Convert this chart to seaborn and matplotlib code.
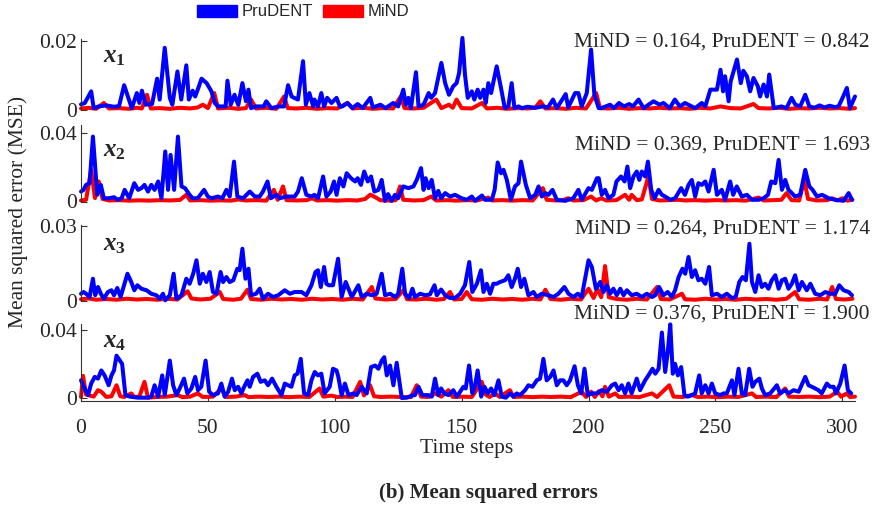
import numpy as np
import pandas as pd
import matplotlib
matplotlib.use("Agg")
import matplotlib.pyplot as plt
import seaborn as sns
from matplotlib.patches import Patch

# MSE per time step, (time step, value in units of 1e-3)
x1_prudent = [(0, 1.5), (1.5, 1.9), (4, 5.3), (5, 0.4), (7, 0.9), (10, 1.2), (13, 0.8), (15, 1.0), (17, 7.1), (20, 0.4),
    (22, 4.8), (23, 1.9), (24, 5.5), (25.5, 1.4), (28, 1.6), (30, 9.0), (31, 2.9), (33, 18.0), (35, 3.4), (36, 1.4),
    (38, 11.1), (39.5, 2.9), (41.5, 12.9), (42.5, 2.9), (44, 5.5), (45, 3.8), (46, 5.8), (47.5, 9.0), (49.5, 7.7),
    (51.4, 5.3), (52.7, 1.9), (54, 0.9), (57, 0.9), (57.7, 8.4), (59, 1.4), (60.5, 4.3), (62, 1.3), (63.6, 7.7),
    (65, 2.4), (66, 5.8), (67, 0.4), (69, 0.9), (72, 0.9), (73, 2.4), (75, 0.4), (78, 0.9), (80, 0.9), (81.6, 7.1),
    (83, 3.8), (84, 3.4), (85.5, 2.9), (87.5, 14.1), (88.6, 1.4), (90, 4.8), (91.5, 0.9), (92, 2.9), (93.4, 0.9),
    (94.7, 4.8), (95.8, 0.9), (97, 3.4), (98.7, 1.9), (100.7, 3.4), (102, 0.9), (103, 0.9), (105, 1.9), (107, 0.4),
    (109, 1.6), (111, 0.4), (114, 3.4), (115, 0.6), (118, 1.4), (120, 0.4), (123, 1.9), (125, 0.9), (127, 5.8),
    (128, 1.4), (129, 3.4), (130, 0.4), (132, 10.9), (133, 0.9), (135, 1.4), (137, 4.8), (138, 3.4), (139.5, 4.8),
    (142, 13.6), (143.5, 7.7), (145, 4.3), (146.7, 6.8), (148, 7.7), (149, 10.7), (150.3, 20.9), (151.3, 10.2),
    (152.4, 3.4), (154, 5.3), (155, 2.9), (156.3, 5.8), (157.3, 3.4), (158.6, 5.8), (159.5, 1.9), (160.5, 7.7),
    (161.6, 4.8), (163.8, 12.6), (165.5, 6.3), (167, 0.4), (168.4, 0.9), (169.7, 7.7), (170.8, 0.4), (172.4, 0.9),
    (173.7, 0.4), (176, 0.8), (179, 0.5), (182, 0.9), (184, 0.6), (186, 2.9), (187.5, 0.4), (191, 4.5), (192, 0.6),
    (194.7, 4.8), (196, 4.8), (197.3, 0.9), (199.3, 4.8), (201, 17.5), (202.3, 4.3), (204, 0.4), (205, 0.4),
    (208.5, 1.4), (210, 0.4), (212, 1.9), (214, 0.9), (216, 1.6), (217.5, 0.9), (219.7, 2.9), (221.7, 0.4),
    (225.6, 2.4), (228, 1.4), (229.5, 1.9), (232, 0.4), (234, 2.9), (236, 0.9), (238, 1.9), (242, 0.4), (244.6, 1.9),
    (246, 0.9), (248, 5.8), (250.6, 5.8), (252, 11.6), (253, 5.3), (253.8, 9.7), (255.2, 2.4), (256, 8.2),
    (258.5, 14.6), (260, 7.7), (261, 11.3), (262.4, 9.7), (263.7, 5.3), (265, 9.2), (266.7, 6.8), (267.6, 3.8),
    (269, 7.3), (270.3, 3.8), (271.2, 10.2), (273, 0.4), (276, 0.9), (278, 0.4), (280, 3.4), (281.5, 1.4),
    (283.4, 0.9), (285.4, 4.3), (287, 0.9), (289, 0.5), (291, 1.2), (293, 0.6), (295, 1.1), (297, 0.7), (298.5, 0.9),
    (299.8, 2.9), (301.8, 6.3), (303, 0.4), (305, 3.8)]
x1_mind = [(0, 0.3), (3, 0.5), (6, 0.2), (9, 1.9), (11, 0.3), (15, 0.4), (19, 0.2), (22, 0.5), (24, 0.3), (26, 4.3),
    (27.5, 0.3), (31, 0.4), (35, 0.2), (39, 0.5), (43, 0.3), (46, 0.6), (48, 1.4), (50, 0.4), (52.5, 4.8), (54, 0.3),
    (58, 0.5), (62, 0.2), (65, 0.4), (67, 2.9), (69, 0.3), (73, 0.5), (77, 0.2), (80, 3.8), (81.5, 0.4), (85, 0.3),
    (89, 0.5), (93, 0.2), (97, 0.4), (101, 0.3), (105, 1.9), (107, 0.3), (111, 0.5), (115, 0.2), (119, 0.4),
    (123, 0.3), (126, 3.8), (127.5, 0.4), (131, 0.3), (135, 0.5), (140, 2.9), (142, 0.4), (145, 1.4), (146.5, 0.5),
    (148, 2.9), (150, 0.4), (154, 0.3), (158, 1.9), (160, 0.3), (164, 0.5), (168, 0.2), (172, 0.4), (176, 0.3),
    (179, 0.5), (181, 2.4), (183, 0.3), (187, 0.4), (191, 0.2), (195, 0.5), (199, 0.3), (203, 4.8), (204.5, 0.4),
    (208, 0.3), (212, 0.5), (216, 0.2), (220, 0.4), (224, 0.3), (228, 0.5), (232, 0.3), (236, 0.4), (240, 0.2),
    (244, 0.5), (248, 0.3), (252, 0.9), (256, 0.4), (260, 0.3), (265, 1.6), (267, 0.4), (271, 0.3), (275, 0.5),
    (279, 0.2), (283, 0.4), (287, 0.3), (291, 0.5), (295, 0.3), (299, 0.4), (303, 0.2), (305, 0.4)]

x2_prudent = [(0, 5.8), (1, 6.8), (2, 9.7), (3.4, 10.7), (4.7, 37.9), (5.6, 19.5), (6.4, 3.9), (7.8, 9.7), (9, 1.9),
    (11, 1.9), (13, 2.5), (14.5, 1.0), (16, 1.9), (17.2, 6.8), (19, 1.9), (21, 10.7), (22.5, 6.8), (23.8, 7.8),
    (25, 9.7), (26.4, 5.8), (27.7, 9.7), (29, 6.8), (30.4, 11.7), (31.7, 1.9), (33.2, 29.2), (34.3, 6.8),
    (35.3, 27.2), (36.7, 6.8), (38.2, 37.9), (39.6, 8.8), (41, 7.8), (42.8, 3.9), (44, 1.9), (46, 1.9), (48.5, 6.8),
    (50, 2.9), (51.4, 1.9), (54, 2.9), (55.7, 1.9), (57.3, 6.8), (58.6, 2.9), (60.3, 23.3), (61.6, 2.9), (63.9, 1.9),
    (66.5, 5.8), (68.5, 2.9), (70.4, 2.9), (71.7, 5.8), (73.5, 11.7), (74.8, 1.9), (77, 3.9), (78.3, 1.9), (81, 2.9),
    (84.2, 2.9), (85.5, 5.8), (87, 13.6), (88.8, 3.9), (90.8, 2.9), (92, 3.9), (93.4, 1.9), (95.4, 14.6), (96.7, 2.9),
    (98.4, 5.8), (99.7, 11.7), (100.7, 3.9), (102, 13.6), (103.4, 8.8), (104.7, 16.5), (106.4, 13.6), (108, 11.7),
    (109, 13.6), (110.3, 9.7), (111.6, 17.5), (113, 11.7), (114.3, 14.6), (115.6, 5.8), (117.2, 6.8), (118.5, 12.6),
    (119.8, 0.4), (121, 4.3), (122.4, 0.4), (123.7, 3.9), (125, 1.9), (127, 8.8), (129, 7.8), (131, 8.8),
    (132.3, 12.6), (134, 19.5), (135, 6.8), (135.8, 13.6), (137, 7.8), (138.2, 12.6), (139.5, 1.9), (140.8, 6.2),
    (141.9, 1.9), (143.5, 4.9), (145.4, 2.9), (147.4, 3.9), (150, 1.9), (152, 1.0), (154, 2.9), (155.3, 0.4),
    (158, 3.5), (159.2, 1.0), (161.9, 1.0), (163, 6.8), (164.2, 22.8), (165.5, 16.5), (166.5, 18.5), (167.8, 12.6),
    (169.4, 1.0), (171, 8.8), (172.4, 10.7), (173.4, 23.3), (175.3, 9.7), (177, 1.9), (179, 3.9), (180.3, 8.8),
    (181.6, 2.9), (183, 4.9), (184.2, 3.9), (185.8, 6.8), (187.5, 1.0), (190.8, 0.4), (194, 1.9), (196, 6.8),
    (197.3, 1.0), (200, 7.8), (201.3, 6.8), (203.3, 13.6), (204, 13.6), (205.2, 3.9), (206.5, 6.8), (207.9, 1.9),
    (209.8, 3.9), (211, 11.7), (212.8, 14.6), (214.2, 11.7), (215.3, 20.4), (216.4, 7.8), (217.7, 14.6), (219, 17.5),
    (220, 12.6), (221, 17.5), (222.3, 14.6), (223.4, 23.3), (224.7, 6.8), (226, 1.9), (227.6, 6.8), (228.9, 3.9),
    (230.2, 2.9), (232.2, 1.0), (234.1, 1.9), (236.5, 7.8), (238, 3.9), (239.4, 9.7), (240.7, 12.6), (242, 2.9),
    (243.3, 10.7), (244.6, 9.7), (246, 11.7), (247.3, 5.8), (249.3, 18.5), (250.6, 3.9), (252.5, 6.8), (253.8, 1.0),
    (255.8, 11.7), (257, 3.9), (258.4, 8.8), (260.4, 2.9), (262.4, 3.9), (264.4, 1.0), (267, 1.0), (269, 1.9),
    (270.7, 3.9), (272, 11.7), (273.6, 10.7), (274.9, 24.3), (276.2, 6.8), (277.5, 12.6), (278.8, 6.8), (280.1, 4.9),
    (281.4, 2.9), (283.4, 3.9), (285.4, 18.5), (287, 8.8), (288.3, 6.8), (290, 2.9), (292, 3.9), (294.6, 1.9),
    (297.2, 1.0), (300.5, 0.4), (302.5, 4.9), (303.8, 1.0)]
x2_mind = [(0, 0.6), (2, 1.0), (4, 18.5), (5.5, 2.0), (7, 11.7), (8.5, 1.5), (11, 0.6), (15, 0.8), (19, 0.5), (23, 0.7),
    (27, 0.5), (31, 0.8), (35, 0.6), (39, 0.9), (41.5, 3.9), (43, 0.6), (47, 0.8), (51, 0.5), (55, 0.7), (59, 0.5),
    (62, 1.2), (65, 0.6), (69, 0.8), (73, 0.5), (76, 6.8), (77.5, 1.0), (79.6, 8.8), (81, 0.8), (85, 0.6), (89, 0.8),
    (91, 1.9), (93, 0.6), (97, 0.8), (101, 0.5), (105, 0.8), (109, 0.6), (112, 1.5), (114, 4.0), (116, 2.5),
    (118, 0.7), (122, 0.5), (124, 0.8), (125.7, 8.8), (127, 1.0), (131, 0.6), (135, 0.8), (138, 2.9), (140, 0.6),
    (144, 0.8), (148, 0.5), (152, 0.8), (156, 0.6), (160.5, 2.3), (162, 0.6), (166, 0.8), (170, 0.5), (174, 0.8),
    (178, 0.6), (182, 7.8), (183.5, 1.0), (187, 0.6), (190, 0.8), (192, 1.9), (194, 0.6), (198, 0.8), (201, 2.9),
    (203, 0.6), (205, 1.9), (207, 0.6), (211, 0.8), (214.4, 3.9), (216, 1.0), (217, 3.9), (219, 0.8), (221, 1.2),
    (223.6, 14.6), (225, 1.5), (228, 0.6), (232, 0.8), (235, 1.0), (238, 0.6), (242, 0.8), (246, 0.5), (250, 0.8),
    (254, 0.6), (258, 0.8), (262, 0.5), (267, 2.3), (269, 0.6), (273, 0.8), (276, 1.0), (278, 4.9), (280, 0.8),
    (283, 0.6), (285, 12.6), (286.5, 1.5), (290, 0.6), (294, 0.8), (296, 1.9), (298, 0.6), (300, 1.9), (302, 0.5),
    (304, 1.0)]

x3_prudent = [(0, 2.9), (1, 3.6), (2, 2.9), (3.4, 1.6), (4.7, 8.9), (5.6, 2.3), (6.7, 5.6), (7.8, 2.9), (9, 0.9),
    (10.6, 3.6), (12, 4.3), (13, 2.3), (14.3, 5.2), (15.6, 1.6), (18.3, 10.9), (19.8, 7.6), (21, 4.3), (22.2, 6.3),
    (23.8, 4.9), (25.8, 4.3), (27.7, 2.9), (29.7, 2.3), (31, 0.9), (32.3, 2.9), (33.2, 0.3), (35, 2.3), (36.5, 10.9),
    (37.6, 0.9), (39.6, 2.3), (41.5, 8.9), (42.8, 6.9), (44.2, 10.9), (45.5, 16.3), (46.8, 6.9), (48, 10.9),
    (49.4, 7.6), (50.7, 11.6), (52, 3.6), (53.4, 2.9), (55, 11.6), (56, 7.6), (57.3, 9.6), (58.6, 7.6), (60, 8.3),
    (61.6, 12.9), (62.5, 12.3), (63.6, 20.9), (64.8, 8.9), (66, 12.9), (67, 2.3), (69, 2.9), (70.4, 4.9), (71.7, 0.9),
    (73.7, 2.9), (75.7, 1.6), (77.7, 2.3), (80.3, 4.3), (82.3, 2.9), (84.2, 3.6), (86.9, 3.6), (88.8, 2.3),
    (90.8, 6.3), (92.4, 11.6), (93.4, 12.3), (94.5, 5.6), (95.8, 13.6), (96.7, 6.9), (97.6, 6.3), (99.3, 6.3),
    (101.3, 16.9), (102.7, 1.6), (104.3, 7.6), (105.4, 4.9), (106.7, 1.6), (109.3, 6.3), (110.6, 1.6), (112.6, 2.9),
    (114.6, 2.3), (116.5, 2.9), (118.5, 10.9), (119.8, 2.3), (121.8, 2.9), (123.8, 1.6), (125, 2.9), (126.6, 12.9),
    (127.7, 2.9), (129.3, 1.2), (130.6, 4.9), (131.6, 1.6), (133.6, 2.9), (135.6, 2.3), (137.5, 2.6), (139.3, 6.3),
    (140.2, 2.3), (141.9, 4.6), (143.5, 2.3), (145.4, 1.2), (147.4, 1.2), (149.4, 2.9), (151.3, 6.3), (153, 15.6),
    (154.2, 3.6), (156, 6.9), (157.6, 12.3), (158.6, 3.6), (159.9, 6.9), (161.2, 2.9), (162.5, 6.9), (163.8, 6.9),
    (165.1, 7.6), (167.1, 8.3), (168.4, 10.3), (169.7, 5.6), (171, 8.9), (172.1, 12.9), (173.4, 5.6), (174.7, 8.9),
    (176.3, 2.3), (178.3, 3.6), (179.6, 1.6), (181.6, 2.9), (184.2, 2.3), (186.2, 1.6), (188.1, 2.9), (190.5, 5.6),
    (192.1, 2.9), (194, 1.6), (195.8, 2.9), (197.3, 1.6), (200, 16.3), (201.3, 13.6), (202.9, 4.9), (204.6, 7.6),
    (205.9, 3.6), (207.2, 6.3), (208.5, 2.9), (209.8, 4.9), (211.1, 2.3), (212.5, 4.9), (213.8, 2.3), (215.1, 4.3),
    (217, 2.3), (219, 2.9), (221, 1.6), (223, 2.9), (225, 1.6), (226.3, 2.3), (227.8, 5.6), (229.5, 2.3),
    (231.2, 3.6), (232.8, 1.6), (234.1, 4.3), (235.5, 9.6), (237, 12.9), (238.1, 10.9), (239.4, 17.6), (240.7, 9.6),
    (242, 12.3), (243.3, 8.3), (244.6, 8.9), (246, 6.9), (247.5, 13.6), (248.6, 2.3), (250.6, 2.9), (252.5, 1.6),
    (254.5, 2.9), (256.5, 1.2), (258, 1.6), (259.4, 7.6), (260.7, 9.6), (262, 8.3), (263.4, 22.9), (264.4, 7.6),
    (265.7, 3.6), (267, 10.3), (268.3, 5.6), (269.6, 6.9), (270.9, 4.9), (272.2, 8.3), (273.6, 10.3), (274.9, 4.9),
    (276.2, 8.3), (277.5, 8.9), (278.8, 4.9), (280.1, 6.9), (281.4, 10.3), (282.8, 4.3), (284.1, 7.6), (286, 4.3),
    (287.4, 6.9), (289.3, 2.9), (291.3, 2.3), (293.3, 3.6), (295.2, 2.9), (297.2, 2.9), (298.8, 6.3), (300.5, 4.3),
    (302.5, 3.6), (303.8, 2.3)]
x3_mind = [(0, 0.7), (3, 1.0), (6, 0.5), (10, 0.8), (14, 0.5), (18, 0.9), (22, 0.6), (26, 0.8), (30, 0.5), (34, 0.9),
    (38, 0.6), (42, 3.9), (43.5, 1.0), (47, 0.6), (51, 0.9), (54.7, 3.6), (56, 0.8), (60, 0.5), (63, 0.9),
    (65.6, 4.5), (67, 0.8), (71, 0.5), (75, 0.9), (79, 0.6), (83, 0.8), (87, 0.5), (91, 0.9), (95, 0.6), (99, 0.8),
    (103, 0.5), (107, 0.9), (111, 0.6), (114.6, 5.6), (116, 1.0), (120, 0.6), (124, 0.8), (127, 4.3), (128.5, 0.7),
    (132, 0.6), (136, 0.9), (140, 0.5), (143, 0.8), (145.4, 3.6), (147, 0.6), (150, 0.8), (152, 3.6), (154, 0.7),
    (158, 0.5), (162, 0.9), (166, 0.6), (170, 0.8), (174, 0.5), (178, 0.9), (181, 0.6), (183, 4.5), (185, 0.8),
    (189, 0.5), (193, 0.9), (197, 0.6), (200, 4.9), (202, 1.2), (203.5, 4.9), (205, 1.5), (206.5, 14.0), (208, 1.5),
    (211, 0.8), (215, 0.5), (219, 0.9), (223, 0.6), (227, 5.6), (228.5, 0.8), (232, 0.6), (236.8, 2.9), (238, 0.7),
    (242, 0.5), (246, 0.9), (250, 0.6), (254, 0.8), (258, 0.5), (262, 0.9), (266, 0.6), (270, 0.8), (274, 0.5),
    (278, 0.9), (281.4, 3.6), (283, 0.7), (287, 0.5), (291, 0.9), (294, 0.6), (296, 5.6), (297.5, 0.8), (301, 0.6),
    (304, 0.9)]

x4_prudent = [(0, 10.4), (1.4, 5.6), (2.8, 1.7), (4, 8.5), (5.4, 12.4), (6.7, 11.4), (8, 16.2), (9.3, 13.3),
    (10.9, 7.5), (12, 13.3), (13, 16.2), (14, 24.9), (15.3, 22.0), (16.2, 20.1), (17.5, 1.7), (19.2, 0.8),
    (22.5, 0.2), (26.4, 0.2), (27.7, 0.8), (29, 7.5), (30.4, 0.8), (32, 13.3), (33, 1.7), (35, 22.0), (36.3, 7.5),
    (37.6, 1.7), (38.9, 5.6), (40.6, 11.4), (41.9, 2.7), (43.5, 5.6), (45, 12.4), (46.1, 4.6), (47.4, 6.6),
    (49.1, 22.0), (50.5, 3.7), (52, 1.7), (54, 2.7), (55.3, 8.5), (56.6, 0.8), (58, 3.7), (59.5, 11.4), (60.6, 4.6),
    (61.9, 6.6), (63.2, 2.7), (64.3, 6.6), (65.6, 10.4), (66.5, 6.6), (67.8, 12.4), (69.5, 14.3), (70.8, 9.5),
    (72.4, 10.4), (73.7, 7.5), (75.3, 11.4), (77, 6.6), (79, 1.7), (80.3, 8.5), (81.6, 7.5), (82.9, 6.6),
    (84.2, 13.3), (85.3, 14.3), (86.6, 23.0), (87.9, 2.7), (89.5, 1.7), (90.8, 10.4), (92.1, 15.3), (93.4, 13.3),
    (94.7, 14.3), (96, 2.7), (98, 6.6), (99.3, 17.2), (100.7, 16.2), (101.4, 12.4), (102.7, 1.7), (104, 8.5),
    (105.4, 1.7), (107.3, 2.7), (108.6, 1.7), (110.6, 6.6), (112.6, 2.7), (114.3, 18.2), (115.9, 19.1), (117.2, 17.2),
    (118.5, 22.0), (119.5, 24.0), (120.5, 13.3), (121.8, 19.1), (123.1, 7.5), (124.4, 20.7), (125.7, 7.5),
    (126.4, 0.0), (128.4, 0.2), (130.3, 1.4), (131.6, 1.7), (133, 6.6), (134.5, 1.7), (136.9, 1.7), (138.2, 0.8),
    (139.5, 11.4), (140.8, 1.7), (141.9, 5.6), (143.2, 2.7), (144.8, 1.7), (146.7, 4.6), (148.1, 0.8), (149.4, 3.7),
    (150.7, 6.6), (151.6, 5.6), (152.9, 19.1), (154.2, 2.7), (155.3, 7.5), (156.3, 16.2), (157.7, 0.8), (159, 6.6),
    (160.3, 2.7), (161.6, 5.6), (162.9, 1.7), (164.5, 10.4), (165.8, 0.8), (167.4, 0.2), (169.1, 2.7), (170.4, 0.8),
    (171.7, 2.7), (173, 1.7), (175, 4.6), (176.3, 7.5), (177.9, 6.6), (179.6, 10.4), (180.9, 11.4), (182.2, 23.0),
    (183.5, 10.4), (184.9, 12.4), (186.2, 16.2), (187.5, 7.5), (188.8, 10.4), (190.1, 10.4), (191.4, 7.5),
    (192.7, 10.4), (194.5, 18.7), (195.8, 7.5), (197.1, 2.7), (198.4, 17.2), (199.7, 1.7), (201.3, 2.7),
    (203.3, 2.7), (205.2, 4.6), (207.2, 3.7), (209.2, 7.5), (210.5, 8.5), (211.8, 4.6), (213.1, 7.5), (214.4, 2.7),
    (215.7, 8.5), (217, 2.7), (218.1, 7.5), (219, 11.4), (220.3, 4.6), (222.3, 10.4), (223.6, 13.3), (225.2, 17.2),
    (226.3, 14.3), (227.6, 17.2), (228.9, 38.5), (230.2, 15.3), (231.2, 26.9), (232.2, 43.3), (233.2, 14.3),
    (234.1, 20.1), (235.2, 13.3), (236.5, 18.2), (237.8, 1.7), (239.1, 0.8), (240.7, 1.7), (242, 2.7), (243.6, 13.3),
    (244.6, 2.7), (246, 7.5), (247.3, 2.7), (248.6, 8.5), (249.9, 2.7), (251.9, 1.7), (253.2, 2.7), (254.5, 2.7),
    (256.5, 10.4), (257.5, 1.7), (259.1, 17.2), (260.4, 2.7), (261.7, 1.7), (263.3, 17.2), (264.6, 6.6), (265.7, 9.5),
    (267.3, 11.4), (268.3, 5.6), (269.6, 1.7), (271.6, 2.7), (274.2, 7.5), (275.5, 2.7), (277.5, 4.6), (278.8, 2.7),
    (280.8, 4.6), (282.8, 3.7), (285.4, 12.4), (286.7, 7.5), (288, 6.6), (289.3, 5.6), (290.6, 4.6), (291.9, 2.7),
    (293.9, 8.5), (295.2, 6.6), (296.6, 6.6), (297.5, 2.7), (299.2, 8.5), (300.9, 19.1), (302.2, 4.6), (303.5, 2.7)]
x4_mind = [(0, 0.6), (0.8, 13.0), (2, 2.0), (2.8, 1.7), (5, 0.8), (6.7, 4.6), (8, 3.7), (10, 0.6), (12, 1.0), (14, 7.5),
    (15.5, 1.0), (17, 0.6), (19.8, 2.7), (21, 0.6), (23, 0.8), (25, 9.5), (26.4, 0.2), (30, 0.6), (34, 0.8),
    (38, 1.7), (40, 0.5), (43, 0.8), (46, 2.7), (48, 0.6), (52, 0.8), (55.3, 5.6), (57, 0.6), (61, 0.8), (64.5, 1.7),
    (66, 0.5), (70, 0.8), (74, 0.6), (78, 0.8), (82, 0.5), (86, 0.8), (90, 0.6), (94, 5.6), (95.5, 0.8), (98.7, 1.4),
    (101, 0.6), (104, 0.8), (107, 0.6), (110, 9.5), (111.5, 1.5), (113.9, 7.5), (115.5, 1.0), (118, 0.6), (122, 0.8),
    (126, 0.6), (130, 0.5), (132.3, 7.5), (134, 0.8), (137, 0.6), (139.5, 2.7), (142, 0.8), (144.8, 4.6),
    (146.5, 0.6), (150, 0.8), (154, 0.6), (157.9, 9.5), (159.5, 2.0), (161, 0.6), (163.2, 2.7), (165, 0.6),
    (169, 4.6), (170.5, 0.6), (174, 0.8), (178, 0.5), (181.6, 0.8), (185, 0.6), (189, 0.8), (193, 0.5), (197.3, 3.7),
    (199, 0.6), (201, 3.7), (202.5, 0.6), (204, 4.0), (205.5, 1.0), (206.5, 6.6), (208, 0.8), (210.5, 2.7),
    (212, 0.6), (216, 0.8), (220, 0.5), (225, 2.7), (227, 0.6), (231.8, 7.5), (233.5, 0.8), (237, 0.6), (240.7, 1.7),
    (243, 0.6), (247, 0.8), (251, 0.5), (255, 0.8), (259, 0.6), (264.4, 2.7), (266, 0.6), (270, 0.8), (274, 0.5),
    (277.5, 5.6), (279, 0.8), (283, 0.6), (287, 0.8), (291, 0.5), (295, 0.8), (298, 3.7), (299.5, 0.8),
    (301.8, 2.7), (303, 0.6), (305, 0.8)]

panel_names = ["1", "2", "3", "4"]
prudent_series = [x1_prudent, x2_prudent, x3_prudent, x4_prudent]
mind_series = [x1_mind, x2_mind, x3_mind, x4_mind]
ytick_tops = [0.02, 0.04, 0.03, 0.04]
ytick_labels = [["0", "0.02"], ["0", "0.04"], ["0", "0.03"], ["0", "0.04"]]
mind_totals = ["0.164", "0.369", "0.264", "0.376"]
prudent_totals = ["0.842", "1.693", "1.174", "1.900"]
xticks = [0, 50, 100, 150, 200, 250, 300]

BLUE = "#0000ff"
RED = "#ff0000"

sns.set_style("white")
plt.rcParams["font.family"] = ["Liberation Serif", "DejaVu Serif"]
plt.rcParams["mathtext.fontset"] = "custom"
plt.rcParams["mathtext.it"] = "Liberation Serif:italic:bold"
plt.rcParams["mathtext.rm"] = "Liberation Serif:bold"

fig = plt.figure(figsize=(8.74, 5.08), dpi=100)

# axes boxes in pixels: (y of value 0, y of the spine top, y of axes bottom)
W, H = 874.0, 508.0
left_px, right_px = 81.0, 855.0
boxes = [(109.5, 39.0, 109.5), (201.5, 125.3, 201.5), (301.0, 224.7, 301.0), (398.0, 324.0, 401.0)]
tick_px = [41.0, 133.0, 226.0, 330.0]
label_y = [0.74, 0.66, 0.74, 0.76]
text_y_px = [42.0, 145.0, 229.0, 314.0]

for i in range(4):
    zero_px, top_px, bot_px = boxes[i]
    scale = ytick_tops[i] / (zero_px - tick_px[i])          # data units per pixel
    y_top = (zero_px - top_px) * scale
    y_bot = -(bot_px - zero_px) * scale
    ax = fig.add_axes([left_px / W, 1 - bot_px / H, (right_px - left_px) / W, (bot_px - top_px) / H])

    dm = pd.DataFrame(mind_series[i], columns=["t", "mse"])
    dp = pd.DataFrame(prudent_series[i], columns=["t", "mse"])
    dm["mse"] = dm["mse"] * 1e-3
    dp["mse"] = dp["mse"] * 1e-3
    sns.lineplot(data=dm, x="t", y="mse", ax=ax, color=RED, lw=2.9, estimator=None)
    sns.lineplot(data=dp, x="t", y="mse", ax=ax, color=BLUE, lw=2.9, estimator=None)
    for ln in ax.lines:
        ln.set_clip_on(False)
        ln.set_solid_joinstyle("round")

    ax.set_xlim(0, 305)
    ax.set_ylim(y_bot, y_top)
    ax.set_yticks([0, ytick_tops[i]])
    ax.set_yticklabels(ytick_labels[i], fontsize=15.5)
    ax.set_xlabel("")
    ax.set_ylabel("")
    for s in ["top", "right"]:
        ax.spines[s].set_visible(False)
    ax.spines["left"].set_color("#333333")
    ax.spines["left"].set_linewidth(0.8)
    ax.tick_params(axis="y", direction="in", length=4, width=0.8, color="#333333", pad=3, left=True)
    if i < 3:
        ax.spines["bottom"].set_visible(False)
        ax.set_xticks([])
    else:
        ax.spines["bottom"].set_color("#333333")
        ax.spines["bottom"].set_linewidth(0.8)
        ax.set_xticks(xticks)
        ax.tick_params(axis="x", direction="in", length=4, width=0.8, color="#333333", labelsize=15.5,
                       pad=13, bottom=True)
    ax.patch.set_alpha(0)

    ax.text(0.028, label_y[i], r"$x_{%s}$" % panel_names[i], transform=ax.transAxes, fontsize=18,
            ha="left", va="center")
    fig.text(870 / W, 1 - text_y_px[i] / H,
             "MiND = %s, PruDENT = %s" % (mind_totals[i], prudent_totals[i]),
             ha="right", va="center", fontsize=15.5)

fig.text(18 / W, 1 - 212 / H, "Mean squared error (MSE)", rotation=90, ha="center", va="center", fontsize=15.5)
fig.text(467 / W, 1 - 448 / H, "Time steps", ha="center", va="center", fontsize=15.5)
fig.text(488 / W, 1 - 493 / H, "(b) Mean squared errors", ha="center", va="center", fontsize=15,
         fontweight="bold")

handles = [Patch(facecolor=BLUE, edgecolor=BLUE), Patch(facecolor=RED, edgecolor=RED)]
fig.legend(handles, ["PruDENT", "MiND"], loc="center", bbox_to_anchor=(303 / W, 1 - 12 / H), ncol=2,
           frameon=False, handlelength=2.4, handleheight=0.75, handletextpad=0.3, columnspacing=0.6,
           prop={"family": "Liberation Sans", "size": 12})

fig.savefig("out.png", dpi=100)
